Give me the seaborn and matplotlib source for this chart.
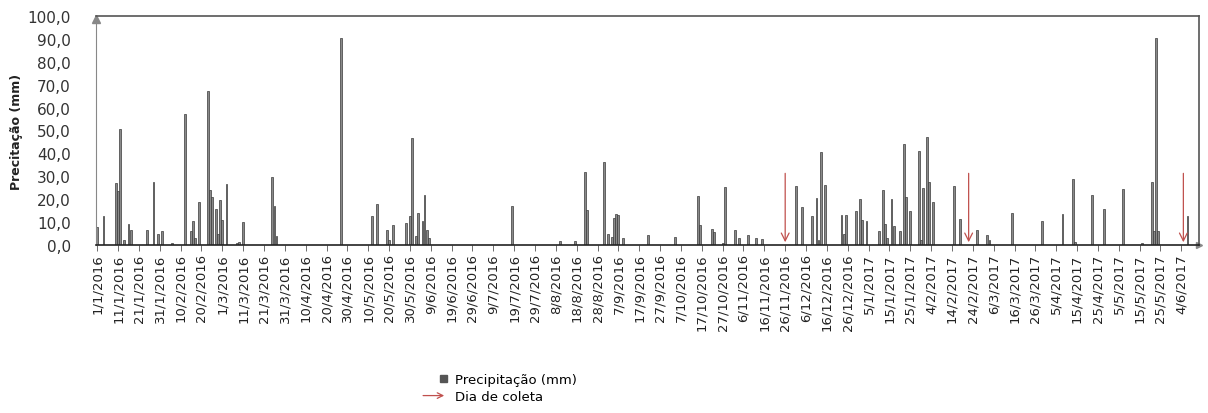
import seaborn as sns
import matplotlib.pyplot as plt
import matplotlib.patches as mpatches
from matplotlib.legend_handler import HandlerPatch
import pandas as pd
import numpy as np

# Rainy days (day index from 1/1/2016) and precipitation (mm)
rain_days = [0, 3, 9, 10, 11, 13, 15, 16, 24, 27, 29, 31, 36, 42, 45, 46, 47, 49,
             53, 54, 55, 57, 58, 59, 60, 62, 67, 68, 70, 84, 85, 86, 117, 132, 134,
             139, 140, 142, 148, 150, 151, 153, 154, 156, 157, 158, 159, 199, 222,
             229, 234, 235, 243, 245, 247, 248, 249, 250, 252, 264, 277, 288, 289,
             295, 296, 300, 301, 306, 308, 312, 316, 319, 335, 338, 343, 345, 346,
             347, 349, 357, 358, 359, 364, 366, 367, 369, 375, 377, 378, 379, 381,
             382, 385, 387, 388, 390, 394, 395, 396, 398, 399, 401, 411, 414, 422,
             427, 428, 439, 453, 463, 468, 469, 477, 483, 492, 501, 506, 507, 508,
             509, 523]
rain_mm = [7.7, 12.8, 27.0, 23.7, 50.7, 2.0, 9.0, 6.5, 6.5, 27.7, 5.0, 6.0, 1.0,
           57.2, 6.0, 10.5, 3.0, 18.6, 67.2, 24.0, 21.0, 15.7, 5.0, 19.7, 11.0, 26.5,
           1.0, 1.5, 10.0, 29.5, 17.0, 4.0, 90.2, 12.8, 17.9, 6.5, 2.0, 8.7, 9.6,
           12.8, 46.6, 4.0, 14.0, 10.5, 21.8, 6.7, 3.0, 16.9, 1.6, 1.9, 31.7, 15.5,
           36.4, 5.0, 3.5, 12.0, 13.5, 13.0, 3.0, 4.2, 3.6, 21.3, 8.7, 7.0, 5.5, 1.0,
           25.5, 6.7, 3.0, 4.2, 3.0, 2.5, 25.6, 16.5, 12.6, 20.7, 2.0, 40.8, 26.0,
           13.0, 5.0, 13.0, 14.8, 20.0, 11.0, 10.6, 6.0, 24.2, 9.0, 3.0, 20.0, 8.5,
           6.0, 44.0, 20.8, 15.0, 40.9, 2.0, 25.0, 47.3, 27.5, 18.6, 25.6, 11.5, 6.5,
           4.5, 2.0, 13.8, 10.6, 13.4, 28.8, 1.5, 21.8, 15.7, 24.6, 1.0, 27.4, 6.0,
           90.2, 6.0, 12.8]

# Collection days
coleta = ["2016-11-26", "2017-02-22", "2017-06-05"]
coleta_height = 32.5

start = pd.Timestamp("2016-01-01")
n_days = 529
dates = pd.date_range(start, periods=n_days, freq="D")
prec = np.zeros(n_days)
prec[rain_days] = rain_mm
df = pd.DataFrame({"dia": np.arange(n_days), "prec": prec})

red = "#c0504d"

fig = plt.figure(figsize=(12.08, 4.14), dpi=100)
ax = fig.add_axes([96 / 1208, 1 - 246 / 414, 1103 / 1208, 229 / 414])

sns.barplot(data=df, x="dia", y="prec", color="#8a8a8a", saturation=1,
            errorbar=None, width=0.9, edgecolor="#3a3a3a", linewidth=0.5, ax=ax)

# collection day arrows
for c in coleta:
    d = (pd.Timestamp(c) - start).days
    ax.annotate("", xy=(d, 0), xytext=(d, coleta_height),
                arrowprops=dict(arrowstyle="->", color=red, lw=0.9,
                                mutation_scale=14))

ticks = np.arange(0, n_days, 10)
ax.set_xticks(ticks)
ax.set_xticklabels([f"{dates[t].day}/{dates[t].month}/{dates[t].year}" for t in ticks],
                   rotation=90, fontsize=9.5, color="#222222")
ax.set_xlim(-0.6, n_days - 0.5)
ax.set_ylim(0, 100)
yt = np.arange(0, 101, 10)
ax.set_yticks(yt)
ax.set_yticklabels([f"{v:.1f}".replace(".", ",") for v in yt], fontsize=11, color="#333333")
ax.set_xlabel("")
ax.set_ylabel("Precitação (mm)", fontsize=9, fontweight="bold", color="#222222")
ax.yaxis.set_label_coords(-0.066, 0.5)
ax.tick_params(axis="x", length=4, width=0.6, color="#555555", pad=2)
ax.tick_params(axis="y", length=0, pad=18)

for s in ax.spines.values():
    s.set_color("#555555")
    s.set_linewidth(1.2)
ax.spines["left"].set_color("#888888")
ax.spines["left"].set_linewidth(0.8)
ax.spines["bottom"].set_color("#222222")

# axis arrowheads like the original
ax.plot([0], [0.985], marker="^", color="#888888", markersize=6,
        transform=ax.transAxes, clip_on=False)
ax.plot([1.0], [0], marker=">", color="#888888", markersize=5,
        transform=ax.transAxes, clip_on=False)


def small_square(legend, orig_handle, xdescent, ydescent, width, height, fontsize):
    s = height * 0.75
    return mpatches.Rectangle((width - s, (height - s) / 2), s, s)


def thin_arrow(legend, orig_handle, xdescent, ydescent, width, height, fontsize):
    return mpatches.FancyArrowPatch((-4, height / 2), (width, height / 2),
                                    arrowstyle="->", mutation_scale=10)


h_sq = mpatches.Rectangle((0, 0), 1, 1, facecolor="#555555", edgecolor="#555555")
h_ar = mpatches.FancyArrowPatch((0, 0), (1, 0), color=red, lw=0.9)
fig.legend([h_sq, h_ar], ["Precipitação (mm)", "Dia de coleta"], loc="lower center",
           bbox_to_anchor=(0.415, -0.005), frameon=False, fontsize=9.5,
           handlelength=1.6, handletextpad=0.6, labelspacing=0.3,
           handler_map={mpatches.Rectangle: HandlerPatch(patch_func=small_square),
                        mpatches.FancyArrowPatch: HandlerPatch(patch_func=thin_arrow)})

fig.savefig("out.png", dpi=100)
